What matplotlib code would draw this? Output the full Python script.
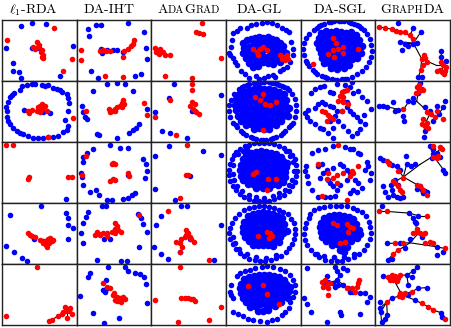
import matplotlib
matplotlib.use("Agg")
import matplotlib.pyplot as plt
import numpy as np

plt.rcParams['mathtext.fontset'] = 'cm'

# node positions, local panel coords (x 0..224 right, y 0..181 down)
titles = ["$\\ell_1$-RDA", "DA-IHT", "AdaGrad", "DA-GL", "DA-SGL", "GraphDA"]

# ---- row 1
rda1_blue = [(56,18),(91,10),(131,14),(12,84),(212,78),(32,128),(33,151),(52,154),(56,174),(174,166),(89,84),(112,84)]
rda1_red = [(157,26),(16,62),(106,66),(112,74),(94,81),(99,88),(119,90),(124,104),(124,114),(119,111),(209,117),(184,153),(108,80),(116,96)]
iht1_blue = [(35,28),(58,16),(72,16),(38,48),(155,11),(202,36),(207,84),(72,86),(92,90),(110,90),(122,90),(76,98),(140,96),(42,151),(63,173),(175,168),(194,161),(210,116)]
iht1_red = [(13,91),(12,119),(70,94),(80,89),(88,94),(100,92),(142,94),(155,86),(162,78),(168,71),(172,62),(140,111),(86,168),(140,171)]
ada1_blue = []
ada1_red = [(152,11),(133,36),(143,41),(155,44),(10,84),(15,96),(23,101),(35,96),(40,104),(57,104),(208,114),(42,168),(122,174),(25,88)]
gl1_ring = [(62,24),(74,16),(90,14),(107,11),(122,8),(137,11),(152,16),(167,24),(180,31),(188,38),(42,26),(32,34),(20,41),(18,61),(14,81),(10,98),(12,104),(22,114),(28,126),(34,136),(44,151),(58,160),(70,172),(90,166),(100,176),(115,172),(127,166),(140,164),(147,171),(162,151),(172,146),(194,66),(200,86),(202,106),(192,126),(184,141)]
gl1_blob = [(50,70),(62,62),(75,58),(88,55),(100,52),(112,55),(125,52),(138,58),(150,62),(162,70),(172,78),(55,85),(68,80),(82,75),(95,72),(108,70),(120,68),(132,72),(145,75),(158,82),(170,92),(180,100),(52,100),(65,98),(78,95),(90,92),(103,90),(116,88),(128,90),(140,92),(152,98),(165,105),(60,115),(74,112),(88,108),(100,105),(112,108),(125,110),(138,112),(150,118),(162,125),(70,128),(85,124),(98,122),(112,126),(126,130),(140,132),(95,138),(80,140)]
gl1_red = [(82,86),(102,86),(112,81),(122,91),(92,96),(172,111),(182,106),(167,116),(177,121),(162,104),(97,106),(187,116)]
sgl1_ring = [(40,30),(55,20),(70,12),(85,8),(100,5),(115,4),(130,5),(145,8),(160,12),(175,20),(190,30),(200,42),(208,58),(212,75),(214,92),(212,110),(206,126),(196,140),(184,152),(170,162),(155,170),(140,175),(125,177),(110,178),(95,177),(80,174),(65,168),(50,160),(38,150),(26,138),(16,122),(10,105),(8,88),(10,70),(16,55),(26,42),(48,25),(62,16),(92,6),(122,4),(152,10),(168,16),(182,25),(132,176),(102,178),(72,171),(44,155),(20,130)]
sgl1_blob = [(60,40),(75,35),(90,38),(105,34),(120,36),(135,40),(150,38),(165,45),(55,55),(70,52),(85,50),(100,48),(115,50),(130,52),(145,54),(160,56),(175,60),(50,70),(65,68),(80,66),(95,64),(110,66),(125,68),(140,66),(155,70),(170,72),(185,78),(55,85),(70,84),(85,82),(100,80),(115,82),(130,84),(145,82),(160,86),(175,90),(60,100),(75,98),(90,96),(105,98),(120,100),(135,98),(150,100),(165,104),(180,100),(65,115),(80,112),(95,114),(110,112),(125,116),(140,114),(155,118),(170,115),(70,128),(85,130),(100,128),(115,132),(130,130),(145,134),(90,142),(110,145),(130,144)]
sgl1_red = [(98,54),(98,91),(83,101),(113,86),(128,81),(173,86),(38,131),(128,98),(106,70),(100,110)]
graph1_blue = [(69,11),(114,26),(136,38),(74,66),(88,72),(80,90),(98,78),(114,72),(124,70),(129,171),(139,171),(196,94),(198,111),(212,124)]
graph1_red = [(12,21),(29,26),(49,28),(62,34),(74,38),(90,36),(104,46),(114,58),(139,116),(149,114),(154,126),(142,136),(136,150),(146,106),(204,136),(194,150),(209,151),(184,151),(199,156),(212,140),(206,160),(196,126)]
graph1_edges = [((12,21),(29,26)),((29,26),(49,28)),((49,28),(62,34)),((62,34),(74,38)),((74,38),(104,46)),((104,46),(114,70)),((114,70),(136,38)),((114,70),(88,72)),((114,70),(74,66)),((114,70),(139,116)),((139,116),(184,136)),((184,136),(204,136)),((139,116),(136,150)),((136,150),(129,171)),((204,136),(196,94)),((204,136),(199,156)),((104,46),(114,26))]

# ---- row 2
rda2_blue = [(36,37),(54,29),(59,17),(74,14),(89,9),(99,11),(119,14),(129,17),(139,14),(154,21),(164,24),(174,29),(179,34),(194,39),(199,51),(202,67),(199,89),(189,117),(199,134),(194,147),(184,151),(169,164),(154,167),(139,167),(124,169),(109,169),(94,169),(79,164),(64,159),(54,154),(44,149),(34,139),(24,129),(19,119),(16,107),(14,89),(12,79),(19,64),(24,49),(29,41),(66,87),(144,97),(122,92)]
rda2_red = [(212,111),(139,166),(79,91),(89,87),(104,89),(109,79),(114,74),(119,84),(124,79),(129,74),(114,94),(134,89),(82,97),(120,70)]
iht2_blue = [(50,31),(92,11),(120,7),(145,9),(170,31),(15,74),(18,94),(25,107),(32,114),(60,157),(68,161),(120,171),(158,154),(170,147),(178,139),(188,129),(210,84)]
iht2_red = [(28,89),(98,84),(105,89),(115,84),(122,79),(130,74),(135,67),(140,57),(135,79),(142,69),(202,67),(212,101),(115,89),(100,94)]
ada2_blue = [(67,9),(210,41),(53,52),(10,92),(123,89),(31,149),(57,154),(108,171)]
ada2_red = [(122,9),(55,57),(123,64),(130,69),(117,74),(125,84),(130,89),(135,94),(143,99),(10,107),(73,161),(122,27)]
gl2_ring = [(40,25),(55,15),(70,10),(85,7),(100,5),(115,4),(130,5),(145,8),(160,12),(175,18),(188,28),(198,40),(206,55),(210,72),(210,90),(206,108),(200,124),(190,138),(178,150),(165,160),(150,168),(135,172),(120,175),(105,175),(90,173),(75,168),(60,160),(45,150),(32,138),(20,124),(12,108),(8,90),(10,72),(15,56),(25,40),(48,20),(62,12),(92,6),(108,4),(138,6),(152,10),(168,15),(182,22),(30,130),(52,155),(82,171),(112,175),(142,170),(172,155),(195,130)]
gl2_blob = [(40,40),(55,32),(70,28),(85,25),(100,22),(115,24),(130,26),(145,28),(160,32),(175,38),(30,55),(45,50),(60,46),(75,44),(90,42),(105,40),(120,42),(135,44),(150,46),(165,50),(180,56),(28,72),(43,68),(58,64),(73,62),(88,60),(103,58),(118,60),(133,62),(148,64),(163,68),(178,72),(190,80),(30,88),(45,84),(60,82),(75,80),(90,78),(105,76),(120,78),(135,80),(150,82),(165,86),(180,90),(35,104),(50,100),(65,98),(80,96),(95,94),(110,92),(125,94),(140,96),(155,100),(170,104),(185,106),(45,118),(60,114),(75,112),(90,110),(105,108),(120,110),(135,112),(150,116),(165,120),(60,130),(75,128),(90,126),(105,124),(120,126),(135,128),(150,132),(85,142),(100,140),(115,142),(130,144)]
gl2_red = [(112,39),(102,57),(117,69),(132,71),(150,64),(87,47),(112,147)]
sgl2_blue = [(30,37),(43,24),(58,19),(70,17),(88,34),(98,37),(108,11),(133,14),(148,19),(153,4),(158,37),(173,31),(183,49),(198,59),(210,84),(190,101),(193,129),(178,144),(168,154),(153,164),(143,149),(128,134),(113,119),(103,104),(88,119),(98,139),(98,169),(83,154),(68,144),(58,139),(43,129),(28,119),(18,107),(13,97),(23,87),(43,81),(53,69),(63,64),(73,69),(88,74),(98,79),(138,79),(148,89),(158,99),(168,109),(178,119),(123,89),(108,89),(138,64),(128,59)]
sgl2_red = [(123,34),(131,31),(138,27),(118,44),(128,49),(113,59),(128,64),(143,69),(63,89),(73,94),(83,101),(88,109),(98,114),(78,119),(123,89)]
graph2_blue = [(12,76),(24,76),(36,77),(52,64),(59,89),(69,87),(84,104),(86,119),(99,59),(112,64),(114,51),(129,37),(134,7),(149,79),(164,89),(186,74),(204,77),(209,61),(192,99),(149,149),(146,167),(174,119)]
graph2_red = [(82,84),(124,19),(132,31),(139,24),(122,37),(144,27),(132,14),(154,94),(166,99),(179,109),(204,114),(144,114),(154,124),(149,134),(159,139),(139,129),(184,89)]
graph2_edges = [((12,76),(36,77)),((36,77),(64,84)),((64,84),(84,86)),((84,86),(99,64)),((99,64),(124,61)),((124,61),(144,79)),((144,79),(164,97)),((164,97),(184,107)),((124,61),(129,34)),((164,97),(149,129)),((184,107),(204,79))]

# ---- row 3
rda3_blue = [(192,170)]
rda3_red = [(12,10),(34,10),(79,109),(82,105),(199,104),(209,104)]
iht3_blue = [(100,8),(130,17),(155,17),(48,22),(32,32),(20,44),(20,60),(200,50),(207,67),(210,87),(205,107),(12,92),(15,104),(155,97),(18,127),(40,147),(58,144),(68,157),(90,172),(105,172),(140,170),(155,167),(165,157),(175,150)]
iht3_red = [(28,42),(105,67),(115,67),(110,64),(155,92),(158,100),(15,97),(100,117),(108,110),(115,112)]
ada3_blue = [(53,12),(155,27),(210,40),(10,42),(117,100),(10,140),(70,172)]
ada3_red = [(107,10),(105,97),(110,97),(85,167)]
gl3_ring = [(30,30),(42,20),(56,13),(70,8),(85,5),(100,3),(115,3),(130,4),(145,7),(160,11),(175,18),(188,27),(198,38),(206,52),(211,68),(213,85),(211,102),(206,118),(198,132),(188,145),(175,156),(160,164),(145,170),(130,174),(115,176),(100,176),(85,174),(70,170),(55,163),(42,154),(30,143),(20,130),(13,115),(9,98),(9,82),(12,66),(18,50),(24,40),(36,36),(50,26),(64,20),(180,28),(192,42),(200,60),(203,85),(198,112),(190,128),(178,142),(160,152),(140,160),(115,165),(90,163),(68,158),(48,146),(34,132),(24,114),(20,95),(22,70)]
gl3_blob = [(60,38),(75,32),(90,30),(105,28),(120,30),(135,32),(150,36),(165,44),(50,52),(65,48),(80,45),(95,44),(110,42),(125,44),(140,46),(155,50),(170,56),(182,64),(45,68),(60,64),(75,62),(90,60),(105,58),(120,60),(135,62),(150,64),(165,68),(180,76),(42,84),(57,80),(72,78),(87,76),(102,74),(117,76),(132,78),(147,80),(162,84),(177,90),(45,100),(60,96),(75,94),(90,92),(105,90),(120,92),(135,94),(150,96),(165,100),(178,104),(52,114),(67,110),(82,108),(97,106),(112,106),(127,108),(142,110),(157,114),(170,118),(65,126),(80,124),(95,122),(110,122),(125,124),(140,126),(155,128),(90,136),(110,138),(130,136)]
gl3_red = [(80,94),(90,90),(150,110),(127,110),(122,142)]
sgl3_blue = [(33,34),(53,24),(73,22),(98,12),(133,14),(148,22),(158,22),(173,32),(178,37),(198,60),(203,72),(210,92),(208,112),(193,82),(16,72),(13,87),(18,102),(23,122),(33,142),(53,162),(73,164),(88,164),(103,160),(148,152),(158,142),(168,147),(183,137),(173,122),(163,112),(148,92),(138,82),(128,72),(118,67),(98,77),(78,82),(68,92),(58,107),(83,112),(88,122),(98,132),(108,142),(118,127),(138,112),(63,67),(53,72)]
sgl3_red = [(113,10),(53,67),(83,92),(98,107),(108,97),(128,92),(153,87),(173,72),(158,92),(78,110),(108,122),(138,172),(63,160),(148,102)]
graph3_blue = [(14,47),(24,54),(42,62),(49,70),(64,72),(74,82),(92,42),(94,67),(106,72),(119,67),(164,12),(174,22),(184,32),(194,44),(204,82),(209,92),(174,37),(169,47),(59,112),(46,127),(49,142),(54,157),(64,162),(74,167),(39,162),(29,147),(24,132),(84,162),(69,127),(134,132),(139,142),(144,152),(154,147),(124,140)]
graph3_red = [(34,57),(42,67),(69,87),(174,12),(194,14),(199,22),(189,42),(172,44),(184,47),(54,117),(59,122),(69,132),(74,142),(79,147),(124,127),(134,132),(144,142),(154,157),(84,107)]
graph3_edges = [((14,47),(44,64)),((44,64),(64,77)),((64,77),(84,104)),((84,104),(59,117)),((84,104),(129,129)),((129,129),(154,142)),((84,104),(134,67)),((134,67),(174,42)),((174,42),(194,22)),((174,42),(164,12)),((174,42),(204,82)),((84,104),(94,67))]

# ---- row 4
rda4_blue = [(24,35),(116,10),(192,30),(199,45),(199,65),(212,75),(199,108),(12,128),(36,145),(59,162),(74,172),(96,108),(122,112)]
rda4_red = [(79,90),(84,95),(89,98),(99,102),(114,110),(124,118),(132,125),(134,130),(139,108),(144,105),(149,112),(142,118),(129,112),(152,110)]
iht4_blue = [(75,10),(88,10),(35,28),(28,42),(18,58),(12,90),(20,120),(60,168),(132,172),(152,172),(188,132),(210,85),(200,62),(192,45),(185,32),(82,108),(100,108)]
iht4_red = [(60,85),(55,95),(68,92),(80,90),(90,88),(105,85),(115,78),(120,68),(115,60),(125,80),(132,85),(115,90),(90,98),(70,95),(188,35)]
ada4_blue = [(90,10),(107,10),(30,38),(15,65),(210,65),(7,132),(30,152),(50,165),(85,145),(187,168),(115,108)]
ada4_red = [(50,25),(105,80),(110,90),(115,100),(120,108),(127,115),(100,100),(90,108),(75,115),(85,120),(93,130),(87,145),(173,168),(105,95)]
gl4_ring = [(40,32),(55,22),(70,16),(85,12),(100,10),(115,10),(130,12),(145,15),(160,20),(172,26),(185,34),(196,46),(204,60),(208,76),(208,92),(204,108),(198,122),(190,134),(180,146),(166,156),(150,164),(134,169),(118,172),(102,172),(86,170),(70,165),(55,158),(42,148),(30,136),(20,122),(13,106),(10,90),(12,74),(17,58),(26,44),(150,155),(120,162),(90,160),(62,150),(40,136),(28,118),(22,100)]
gl4_blob = [(65,40),(80,34),(95,30),(110,28),(125,30),(140,33),(155,38),(168,45),(55,55),(70,50),(85,46),(100,44),(115,44),(130,46),(145,50),(160,55),(175,62),(50,70),(65,66),(80,62),(95,60),(110,60),(125,62),(140,64),(155,68),(170,74),(182,82),(52,86),(67,82),(82,78),(97,76),(112,76),(127,78),(142,80),(157,84),(172,90),(58,100),(73,96),(88,94),(103,92),(118,94),(133,96),(148,98),(163,102),(68,114),(83,110),(98,108),(113,108),(128,110),(143,112),(158,116),(80,126),(95,124),(110,124),(125,126),(140,128)]
gl4_red = [(97,98),(122,85),(132,90),(137,98),(128,104)]
sgl4_ring = [(28,32),(40,22),(55,16),(70,12),(88,10),(105,8),(122,8),(140,10),(156,14),(170,20),(183,28),(195,40),(204,55),(208,72),(210,90),(207,108),(200,124),(190,138),(176,150),(160,160),(143,167),(125,172),(108,173),(90,172),(72,168),(56,161),(42,152),(30,140),(20,126),(13,110),(10,92),(12,75),(17,58),(24,44),(48,150),(70,158),(100,160),(130,160),(160,150)]
sgl4_blob = [(70,45),(85,40),(100,37),(115,36),(130,38),(145,42),(158,48),(62,58),(77,54),(92,51),(107,50),(122,50),(137,52),(152,56),(166,62),(58,72),(73,68),(88,65),(103,64),(118,64),(133,66),(148,68),(163,72),(176,80),(60,86),(75,82),(90,80),(105,78),(120,78),(135,80),(150,82),(165,86),(178,92),(65,100),(80,96),(95,94),(110,92),(125,94),(140,96),(155,98),(170,104),(75,114),(90,110),(105,108),(120,108),(135,110),(150,112),(110,122),(125,126),(140,130),(95,124),(118,138),(130,145)]
sgl4_red = [(98,60),(108,65),(138,62),(158,75),(143,85),(133,115),(118,120),(148,70)]
graph4_blue = [(19,10),(102,30),(114,45),(122,60),(139,102),(104,108),(74,118),(34,120),(89,135),(184,130),(204,145),(184,155),(49,165),(39,168),(129,38),(119,55)]
graph4_red = [(12,25),(34,25),(154,38),(124,78),(114,88),(124,86),(134,90),(144,92),(149,88),(84,120),(59,120),(149,120),(164,115),(174,120),(209,135),(54,150),(69,140)]
graph4_edges = [((12,25),(34,25)),((34,25),(102,30)),((102,30),(129,38)),((129,38),(154,38)),((114,45),(119,55)),((119,55),(124,78)),((124,78),(129,90)),((129,90),(104,118)),((104,118),(34,120)),((104,118),(184,130)),((184,130),(209,135)),((104,118),(54,150)),((54,150),(39,168)),((102,30),(114,45))]

# ---- row 5
rda5_blue = []
rda5_red = [(106,10),(12,154),(142,170),(149,167),(169,154),(179,147),(189,127),(204,130),(209,147),(194,160),(184,142),(194,140),(202,137)]
rda5_edges = [((142,170),(169,154)),((169,154),(194,145)),((194,145),(189,127)),((194,145),(204,130)),((194,145),(209,147)),((194,145),(194,160))]
iht5_blue = [(95,10),(145,10),(155,20),(175,27),(190,30),(202,40),(208,60),(40,27),(35,40),(10,94),(50,144),(82,174),(128,160),(210,117),(88,47),(80,77),(86,82),(88,75)]
iht5_red = [(80,57),(90,67),(100,72),(112,87),(120,97),(130,102),(140,97),(122,110),(115,107),(132,112),(145,104),(110,92)]
ada5_blue = []
ada5_red = [(85,10),(10,107),(90,100),(100,100),(110,102),(120,104),(130,110),(125,104),(210,127),(80,172),(173,167)]
gl5_ring = [(32,37),(42,27),(57,22),(72,17),(87,12),(107,10),(122,7),(142,10),(162,14),(177,22),(192,32),(202,47),(207,62),(207,82),(202,97),(192,112),(22,142),(37,147),(52,154),(67,162),(82,167),(102,170),(122,172),(137,167),(152,162),(167,152),(177,142),(14,62),(12,82),(14,92),(22,102),(190,130)]
gl5_blob = [(55,45),(70,40),(85,36),(100,33),(115,32),(130,34),(145,36),(160,40),(175,46),(45,58),(60,54),(75,50),(90,48),(105,46),(120,46),(135,48),(150,50),(165,54),(180,60),(192,68),(42,72),(57,68),(72,64),(87,62),(102,60),(117,60),(132,62),(147,64),(162,68),(177,72),(190,80),(45,86),(60,82),(75,78),(90,76),(105,74),(120,74),(135,76),(150,78),(165,82),(180,88),(50,100),(65,96),(80,92),(95,90),(110,88),(125,88),(140,90),(155,94),(170,98),(185,102),(60,114),(75,110),(90,106),(105,104),(120,104),(135,106),(150,110),(165,114),(72,128),(87,124),(102,120),(117,120),(132,122),(147,126),(95,138),(110,140),(125,136)]
gl5_red = [(67,64),(122,90),(160,120),(112,62)]
sgl5_blue = [(18,12),(103,10),(108,22),(128,12),(138,17),(118,32),(108,47),(78,37),(83,52),(73,62),(98,57),(103,67),(113,62),(128,62),(143,72),(148,84),(158,82),(178,87),(193,87),(208,97),(198,112),(178,147),(118,142),(120,152),(80,172),(30,142),(18,120),(10,100)]
sgl5_red = [(63,54),(73,47),(78,62),(88,57),(83,70),(68,67),(83,92),(138,72),(153,72),(163,82),(168,67),(173,57),(176,47)]
sgl5_edges = [((83,62),(108,47)),((108,47),(118,32)),((118,32),(108,22)),((108,47),(143,72)),((143,72),(178,87))]
graph5_blue = [(24,37),(94,32),(109,40),(114,22),(124,10),(99,62),(129,72),(154,70),(119,107),(196,144),(199,157),(14,112),(49,102),(14,130),(16,142),(36,150),(29,162),(19,172),(99,92)]
graph5_red = [(39,40),(49,34),(59,37),(69,42),(54,47),(64,50),(44,47),(74,34),(74,87),(84,92),(79,97),(89,87),(72,94),(109,82),(139,117),(159,127),(174,137),(209,164),(34,114)]
graph5_edges = [((24,37),(54,44)),((74,34),(94,32)),((94,32),(114,22)),((114,22),(124,10)),((54,44),(80,92)),((80,92),(109,82)),((109,82),(129,72)),((129,72),(154,70)),((80,92),(119,107)),((119,107),(139,117)),((139,117),(159,127)),((159,127),(174,137)),((174,137),(196,144)),((196,144),(209,164)),((80,92),(49,102)),((49,102),(34,114)),((34,114),(14,130)),((34,114),(16,142)),((16,142),(19,172)),((34,114),(36,150)),((94,32),(99,62))]

# (blue, dense blue core, red, edges) per panel
grid = [
    [(rda1_blue, [], rda1_red, []), (iht1_blue, [], iht1_red, []), (ada1_blue, [], ada1_red, []),
     (gl1_ring, gl1_blob, gl1_red, []), (sgl1_ring, sgl1_blob, sgl1_red, []), (graph1_blue, [], graph1_red, graph1_edges)],
    [(rda2_blue, [], rda2_red, []), (iht2_blue, [], iht2_red, []), (ada2_blue, [], ada2_red, []),
     (gl2_ring, gl2_blob, gl2_red, []), (sgl2_blue, [], sgl2_red, []), (graph2_blue, [], graph2_red, graph2_edges)],
    [(rda3_blue, [], rda3_red, []), (iht3_blue, [], iht3_red, []), (ada3_blue, [], ada3_red, []),
     (gl3_ring, gl3_blob, gl3_red, []), (sgl3_blue, [], sgl3_red, []), (graph3_blue, [], graph3_red, graph3_edges)],
    [(rda4_blue, [], rda4_red, []), (iht4_blue, [], iht4_red, []), (ada4_blue, [], ada4_red, []),
     (gl4_ring, gl4_blob, gl4_red, []), (sgl4_ring, sgl4_blob, sgl4_red, []), (graph4_blue, [], graph4_red, graph4_edges)],
    [(rda5_blue, [], rda5_red, rda5_edges), (iht5_blue, [], iht5_red, []), (ada5_blue, [], ada5_red, []),
     (gl5_ring, gl5_blob, gl5_red, []), (sgl5_blue, [], sgl5_red, sgl5_edges), (graph5_blue, [], graph5_red, graph5_edges)],
]

W, H = 452, 328
col_x = [2, 76.7, 151.3, 226, 300.7, 375.3, 450]
row_y = [19.5, 80.7, 141.8, 203, 264, 325]

fig = plt.figure(figsize=(W / 100, H / 100), dpi=100)

for r in range(5):
    for c in range(6):
        blue, core, red, edges = grid[r][c]
        ax = fig.add_axes([col_x[c] / W, 1 - row_y[r + 1] / H,
                           (col_x[c + 1] - col_x[c]) / W, (row_y[r + 1] - row_y[r]) / H])
        for (a, b) in edges:
            ax.plot([a[0], b[0]], [a[1], b[1]], color='black', lw=0.8, zorder=1)
        if len(core):
            p = np.array(core)
            ax.scatter(p[:, 0], p[:, 1], s=30, color='#0000ff', linewidths=0, zorder=2)
        if len(blue):
            p = np.array(blue)
            ax.scatter(p[:, 0], p[:, 1], s=16, color='#0000ff', linewidths=0, zorder=2)
        if len(red):
            p = np.array(red)
            ax.scatter(p[:, 0], p[:, 1], s=16, color='#ff0000', linewidths=0, zorder=3)
        ax.set_xlim(0, 224)
        ax.set_ylim(181, 0)
        ax.set_xticks([])
        ax.set_yticks([])
        for sp in ax.spines.values():
            sp.set_linewidth(1.0)
            sp.set_color('#222222')

# column titles, small caps done by hand
title_x = [33, 109, 188.5, 259, 339.5, 412.5]
title_parts = [
    [(titles[0], 1.0)],
    [(titles[1], 1.0)],
    [("A", 1.0), ("DA", 0.78), ("G", 1.0), ("RAD", 0.78)],
    [(titles[3], 1.0)],
    [(titles[4], 1.0)],
    [("G", 1.0), ("RAPH", 0.78), ("DA", 1.0)],
]
base_y = 1 - 13.3 / H
fs = 10
renderer = fig.canvas.get_renderer()
for xc, parts in zip(title_x, title_parts):
    txts = [fig.text(0, base_y, s, fontsize=fs * k, family='cmr10', va='baseline')
            for s, k in parts]
    widths = [t.get_window_extent(renderer).width for t in txts]
    x = xc - sum(widths) / 2
    for t, w in zip(txts, widths):
        t.set_x(x / W)
        x += w

fig.savefig("out.png", dpi=100)
